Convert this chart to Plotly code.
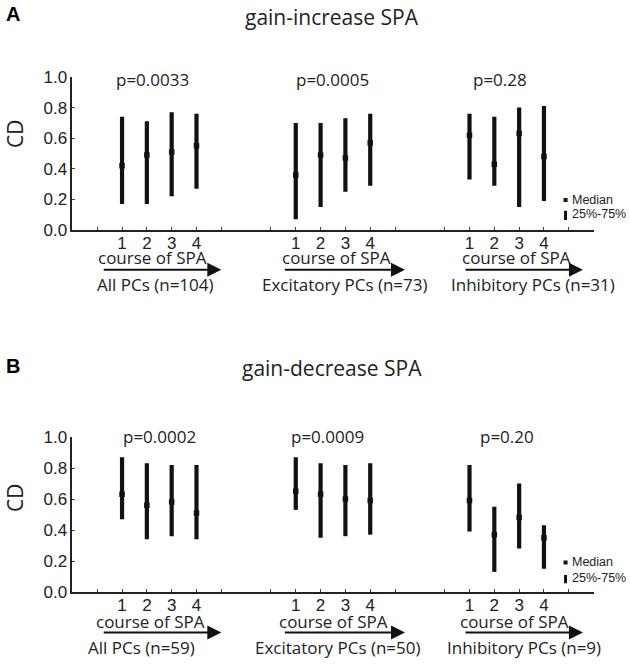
import plotly.graph_objects as go

# ---------------- data ----------------
positions = [1, 2, 3, 4, 8, 9, 10, 11, 15, 16, 17, 18]
course_labels = ["1", "2", "3", "4"]

# Panel A: gain-increase SPA
a_q25 = [0.17, 0.17, 0.22, 0.27, 0.07, 0.15, 0.25, 0.29, 0.33, 0.29, 0.15, 0.19]
a_med = [0.42, 0.49, 0.51, 0.55, 0.36, 0.49, 0.47, 0.57, 0.62, 0.43, 0.63, 0.48]
a_q75 = [0.74, 0.71, 0.77, 0.76, 0.70, 0.70, 0.73, 0.76, 0.76, 0.74, 0.80, 0.81]
a_pvals = ["p=0.0033", "p=0.0005", "p=0.28"]
a_groups = ["All PCs (n=104)", "Excitatory PCs (n=73)", "Inhibitory PCs (n=31)"]

# Panel B: gain-decrease SPA
b_q25 = [0.47, 0.34, 0.36, 0.34, 0.53, 0.35, 0.36, 0.37, 0.39, 0.13, 0.28, 0.15]
b_med = [0.63, 0.56, 0.58, 0.51, 0.65, 0.63, 0.60, 0.59, 0.59, 0.37, 0.48, 0.35]
b_q75 = [0.87, 0.83, 0.82, 0.82, 0.87, 0.83, 0.82, 0.83, 0.82, 0.55, 0.70, 0.43]
b_pvals = ["p=0.0002", "p=0.0009", "p=0.20"]
b_groups = ["All PCs (n=59)", "Excitatory PCs (n=50)", "Inhibitory PCs (n=9)"]

titles = ["gain-increase SPA", "gain-decrease SPA"]
panel_letters = ["A", "B"]
y_ticks = [0.0, 0.2, 0.4, 0.6, 0.8, 1.0]

# tick marks on the x axis (labels only under the four course points)
x_tickvals = [0, 1, 2, 3, 4, 5, 7, 8, 9, 10, 11, 12, 14, 15, 16, 17, 18, 19]
x_ticktext = ["", *course_labels, "", "", *course_labels, "", "", *course_labels, ""]

# ---------------- layout helpers ----------------
W, H = 630, 665
TXT = "Open Sans, Noto Sans, sans-serif"
ARIAL = "Liberation Sans, Arial, sans-serif"
INK = "#111111"

fig = go.Figure()

panels = [
    dict(q25=a_q25, med=a_med, q75=a_q75, pvals=a_pvals, groups=a_groups,
         xa="x", ya="y", top=77, bottom=230,
         p_x=[2.23, 9.47, 16.24], p_y=0.985,
         course_x=[2.21, 9.66, 16.9], course_y=-0.178,
         arrow=[(0.2, 5.0), (7.5, 12.4), (14.78, 19.57)], arrow_y=-0.26,
         grp_x=[2.33, 9.98, 17.56], grp_y=-0.358,
         leg_sq=0.196, leg_bar=(0.065, 0.126), leg_t1=0.196, leg_t2=0.105,
         title_y=17, letter_y=14, cd_y=134),
    dict(q25=b_q25, med=b_med, q75=b_q75, pvals=b_pvals, groups=b_groups,
         xa="x2", ya="y2", top=437, bottom=592,
         p_x=[2.51, 9.26, 16.5], p_y=1.005,
         course_x=[2.13, 9.54, 16.8], course_y=-0.19,
         arrow=[(0.2, 5.0), (7.5, 12.4), (14.78, 19.57)], arrow_y=-0.262,
         grp_x=[1.8, 9.72, 17.18], grp_y=-0.357,
         leg_sq=0.19, leg_bar=(0.056, 0.11), leg_t1=0.194, leg_t2=0.09,
         title_y=368, letter_y=366, cd_y=498),
]

annotations = []
for i, P in enumerate(panels):
    # interquartile bars
    xs, ys = [], []
    for x, lo, hi in zip(positions, P["q25"], P["q75"]):
        xs += [x, x, None]
        ys += [lo, hi, None]
    fig.add_trace(go.Scatter(x=xs, y=ys, mode="lines", xaxis=P["xa"], yaxis=P["ya"],
                             line=dict(color=INK, width=4.2), showlegend=False, hoverinfo="skip"))
    # medians
    fig.add_trace(go.Scatter(x=positions, y=P["med"], mode="markers", xaxis=P["xa"], yaxis=P["ya"],
                             marker=dict(symbol="square", size=5.5, color=INK), showlegend=False))
    # legend glyphs
    fig.add_trace(go.Scatter(x=[18.87], y=[P["leg_sq"]], mode="markers", xaxis=P["xa"], yaxis=P["ya"],
                             marker=dict(symbol="square", size=4, color=INK), showlegend=False,
                             hoverinfo="skip"))
    fig.add_trace(go.Scatter(x=[18.87, 18.87], y=list(P["leg_bar"]), mode="lines",
                             xaxis=P["xa"], yaxis=P["ya"], line=dict(color=INK, width=3),
                             showlegend=False, hoverinfo="skip"))
    xr = P["xa"]
    yd = P["ya"] + " domain"   # y range is [0, 1], so domain fraction == data value
    annotations.append(dict(x=19.1, y=P["leg_t1"], xref=xr, yref=yd, text="Median",
                            showarrow=False, xanchor="left", yanchor="middle", borderpad=0,
                            font=dict(family=ARIAL, size=12.5, color="#222")))
    annotations.append(dict(x=19.1, y=P["leg_t2"], xref=xr, yref=yd, text="25%-75%",
                            showarrow=False, xanchor="left", yanchor="middle", borderpad=0,
                            font=dict(family=ARIAL, size=12.5, color="#222")))
    for g in range(3):
        annotations.append(dict(x=P["p_x"][g], y=P["p_y"], xref=xr, yref=yd, text=P["pvals"][g],
                                showarrow=False, xanchor="center", yanchor="middle",
                                font=dict(family=TXT, size=17, color="#222")))
        annotations.append(dict(x=P["course_x"][g], y=P["course_y"], xref=xr, yref=yd,
                                text="course of SPA", showarrow=False, xanchor="center",
                                yanchor="middle", font=dict(family=TXT, size=17, color="#222")))
        annotations.append(dict(x=P["grp_x"][g], y=P["grp_y"], xref=xr, yref=yd,
                                text=P["groups"][g], showarrow=False, xanchor="center",
                                yanchor="middle", font=dict(family=TXT, size=17, color="#222")))
        x0, x1 = P["arrow"][g]
        annotations.append(dict(x=x1, y=P["arrow_y"], ax=x0, ay=P["arrow_y"], xref=xr, yref=yd,
                                axref=xr, ayref=yd, text="", showarrow=True, arrowhead=2,
                                arrowsize=1.4, arrowwidth=2, arrowcolor=INK, standoff=0))
    # panel title, letter and y title
    annotations.append(dict(x=332 / W, y=1 - P["title_y"] / H, xref="paper",
                            yref="paper", text=titles[i], showarrow=False, xanchor="center",
                            yanchor="middle", font=dict(family=TXT, size=21, color="#222")))
    annotations.append(dict(x=13 / W, y=1 - P["letter_y"] / H, xref="paper",
                            yref="paper", text="<b>" + panel_letters[i] + "</b>", showarrow=False,
                            xanchor="center", yanchor="middle",
                            font=dict(family=ARIAL, size=20, color="#000")))
    annotations.append(dict(x=15 / W, y=1 - P["cd_y"] / H, xref="paper",
                            yref="paper", text="CD", showarrow=False, textangle=-90,
                            xanchor="center", yanchor="middle",
                            font=dict(family=TXT, size=21, color="#222")))

x_dom = [72.4 / W, 593.6 / W]
common_x = dict(range=[-1, 20], domain=x_dom, showgrid=False, zeroline=False,
                showline=True, linecolor="#222", linewidth=1.5,
                tickmode="array", tickvals=x_tickvals, ticktext=x_ticktext,
                ticks="inside", ticklen=3, tickwidth=1, tickcolor="#444",
                ticklabelstandoff=-3,
                tickfont=dict(family=ARIAL, size=17, color="#222"), fixedrange=True,
                automargin=False)
common_y = dict(range=[0, 1], showgrid=False, zeroline=False, showline=True,
                linecolor="#222", linewidth=1.5, tickmode="array", tickvals=y_ticks,
                tickformat=".1f", ticks="inside", ticklen=3, tickwidth=1, tickcolor="#444",
                tickfont=dict(family=ARIAL, size=17, color="#222"), fixedrange=True,
                automargin=False)


def ydom(P):
    return [1 - P["bottom"] / H, 1 - P["top"] / H]


fig.update_layout(
    width=W, height=H,
    margin=dict(l=0, r=0, t=0, b=0, pad=0, autoexpand=False),
    paper_bgcolor="white", plot_bgcolor="white",
    showlegend=False,
    xaxis=dict(common_x, anchor="y"),
    yaxis=dict(common_y, anchor="x", domain=ydom(panels[0])),
    xaxis2=dict(common_x, anchor="y2"),
    yaxis2=dict(common_y, anchor="x2", domain=ydom(panels[1])),
    annotations=annotations,
)

# remove the browser's default page margin so the figure sits at the window origin
fig.write_html("out.html", config={"displayModeBar": False},
               post_script="document.body.style.margin='0';document.body.style.overflow='hidden';")
